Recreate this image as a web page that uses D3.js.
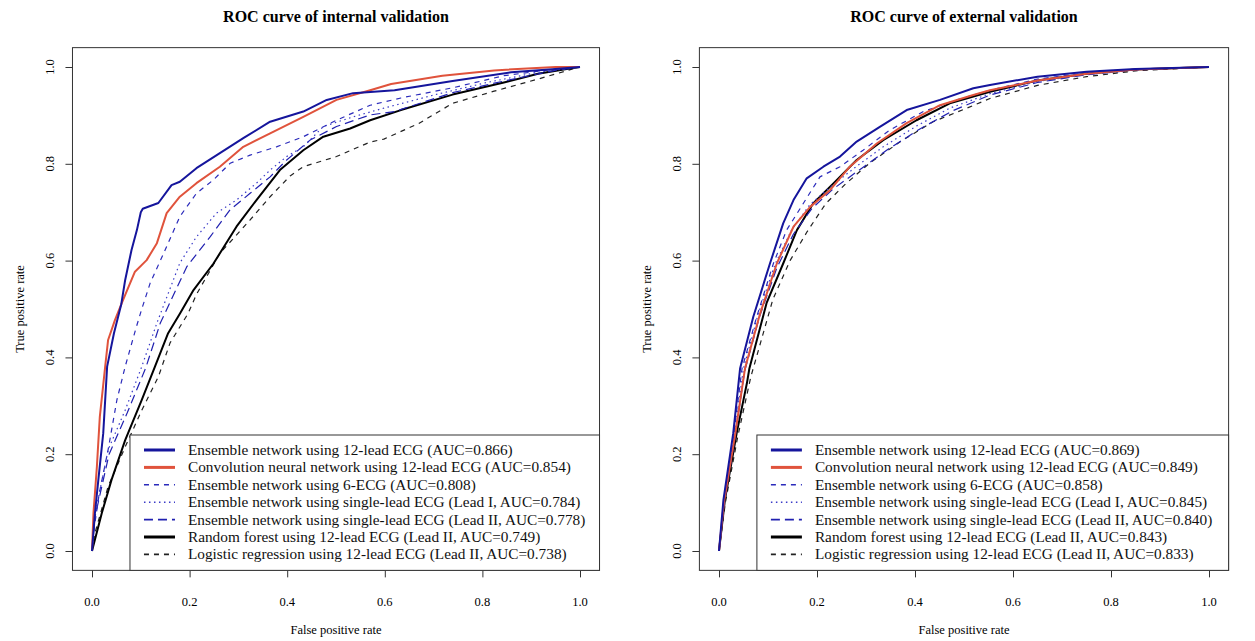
<!doctype html>
<html>
<head>
<meta charset="utf-8" />
<title>ROC curves</title>
<script src="https://cdnjs.cloudflare.com/ajax/libs/d3/7.8.5/d3.min.js"></script>
<style>
  body { margin:0; background:#fff; }
  svg { display:block; font-family:"Liberation Serif", "Times New Roman", serif; }
</style>
</head>
<body>
<div id="chart"></div>
<script>
/* axis ticks (both panels) */
var tick_values = [0, 0.2, 0.4, 0.6, 0.8, 1.0];

var panel_titles = ["ROC curve of internal validation", "ROC curve of external validation"];

/* legend text pieces, in legend order */
var model_names = [
  "Ensemble network using 12-lead ECG",
  "Convolution neural network using 12-lead ECG",
  "Ensemble network using 6-ECG",
  "Ensemble network using single-lead ECG",
  "Ensemble network using single-lead ECG",
  "Random forest using 12-lead ECG",
  "Logistic regression using 12-lead ECG"
];
var model_leads = ["", "", "", "Lead I, ", "Lead II, ", "Lead II, ", "Lead II, "];
var internal_auc = [0.866, 0.854, 0.808, 0.784, 0.778, 0.749, 0.738];
var external_auc = [0.869, 0.849, 0.858, 0.845, 0.840, 0.843, 0.833];

/* internal validation curves, [false positive rate, true positive rate] */
var int_ens12 = [[0,0],[0.006,0.078],[0.013,0.147],[0.023,0.243],[0.031,0.381],[0.045,0.45],[0.06,0.51],[0.068,0.56],[0.081,0.622],[0.092,0.663],[0.1,0.7],[0.104,0.707],[0.136,0.719],[0.163,0.756],[0.18,0.763],[0.214,0.791],[0.262,0.822],[0.31,0.853],[0.365,0.887],[0.433,0.908],[0.481,0.932],[0.535,0.946],[0.62,0.952],[0.739,0.971],[0.859,0.989],[0.95,0.996],[1,1]];
var int_cnn = [[0,0],[0.003,0.078],[0.01,0.174],[0.016,0.277],[0.027,0.381],[0.033,0.436],[0.047,0.477],[0.061,0.512],[0.068,0.529],[0.088,0.577],[0.112,0.601],[0.133,0.636],[0.153,0.698],[0.18,0.732],[0.214,0.76],[0.262,0.794],[0.31,0.835],[0.365,0.863],[0.433,0.897],[0.501,0.932],[0.57,0.952],[0.613,0.965],[0.718,0.982],[0.824,0.993],[0.95,1],[1,1]];
var int_ecg6 = [[0,0],[0.003,0.037],[0.015,0.12],[0.033,0.209],[0.051,0.312],[0.068,0.381],[0.09,0.46],[0.102,0.5],[0.119,0.553],[0.153,0.629],[0.18,0.691],[0.214,0.739],[0.249,0.767],[0.283,0.801],[0.324,0.818],[0.378,0.835],[0.433,0.856],[0.501,0.89],[0.57,0.921],[0.633,0.936],[0.739,0.957],[0.844,0.982],[0.95,0.996],[1,1]];
var int_lead1 = [[0,0],[0.006,0.074],[0.033,0.209],[0.068,0.291],[0.102,0.381],[0.133,0.471],[0.18,0.595],[0.214,0.649],[0.255,0.698],[0.296,0.725],[0.337,0.76],[0.365,0.787],[0.399,0.815],[0.433,0.835],[0.474,0.877],[0.535,0.897],[0.598,0.915],[0.704,0.943],[0.809,0.968],[0.914,0.989],[1,1]];
var int_lead2 = [[0,0],[0.006,0.07],[0.035,0.2],[0.072,0.285],[0.11,0.378],[0.14,0.471],[0.194,0.587],[0.242,0.649],[0.283,0.705],[0.324,0.739],[0.365,0.773],[0.399,0.808],[0.447,0.849],[0.501,0.877],[0.57,0.901],[0.62,0.908],[0.739,0.947],[0.844,0.971],[0.95,0.993],[1,1]];
var int_rf = [[0,0],[0.02,0.078],[0.04,0.147],[0.068,0.229],[0.102,0.312],[0.129,0.381],[0.156,0.45],[0.18,0.49],[0.208,0.539],[0.249,0.594],[0.296,0.67],[0.337,0.725],[0.385,0.787],[0.433,0.828],[0.474,0.856],[0.529,0.873],[0.57,0.89],[0.633,0.911],[0.739,0.943],[0.844,0.968],[0.914,0.986],[0.985,0.998],[1,1]];
var int_lr = [[0,0],[0.006,0.037],[0.033,0.133],[0.068,0.215],[0.102,0.291],[0.136,0.36],[0.16,0.43],[0.197,0.491],[0.214,0.53],[0.262,0.615],[0.324,0.684],[0.365,0.732],[0.406,0.775],[0.433,0.794],[0.501,0.815],[0.57,0.845],[0.598,0.851],[0.669,0.883],[0.739,0.925],[0.824,0.95],[0.914,0.975],[0.985,0.996],[1,1]];

/* external validation curves */
var ext_ens12 = [[0,0],[0.009,0.105],[0.029,0.243],[0.043,0.377],[0.07,0.484],[0.104,0.594],[0.131,0.677],[0.152,0.725],[0.179,0.77],[0.213,0.794],[0.247,0.815],[0.281,0.846],[0.329,0.877],[0.383,0.911],[0.451,0.932],[0.519,0.956],[0.553,0.963],[0.65,0.98],[0.75,0.99],[0.85,0.996],[1,1]];
var ext_cnn = [[0,0],[0.01,0.1],[0.032,0.235],[0.053,0.377],[0.084,0.491],[0.118,0.594],[0.152,0.67],[0.186,0.711],[0.227,0.746],[0.267,0.794],[0.322,0.842],[0.383,0.884],[0.451,0.921],[0.519,0.942],[0.553,0.952],[0.65,0.972],[0.75,0.986],[0.85,0.995],[1,1]];
var ext_ecg6 = [[0,0],[0.01,0.105],[0.03,0.24],[0.047,0.377],[0.077,0.484],[0.111,0.594],[0.138,0.663],[0.172,0.718],[0.206,0.773],[0.247,0.794],[0.294,0.828],[0.349,0.87],[0.417,0.908],[0.485,0.932],[0.553,0.952],[0.65,0.975],[0.75,0.988],[0.85,0.995],[1,1]];
var ext_lead1 = [[0,0],[0.01,0.1],[0.031,0.24],[0.05,0.377],[0.08,0.49],[0.115,0.594],[0.148,0.663],[0.185,0.715],[0.227,0.752],[0.281,0.795],[0.335,0.835],[0.403,0.878],[0.471,0.915],[0.553,0.945],[0.65,0.97],[0.75,0.985],[0.85,0.994],[1,1]];
var ext_lead2 = [[0,0],[0.011,0.1],[0.033,0.235],[0.052,0.37],[0.083,0.485],[0.118,0.585],[0.152,0.655],[0.19,0.708],[0.233,0.748],[0.29,0.79],[0.345,0.83],[0.41,0.872],[0.478,0.91],[0.553,0.942],[0.65,0.968],[0.75,0.984],[0.85,0.994],[1,1]];
var ext_rf = [[0,0],[0.012,0.105],[0.036,0.243],[0.057,0.347],[0.062,0.377],[0.097,0.512],[0.131,0.594],[0.159,0.663],[0.192,0.718],[0.233,0.759],[0.281,0.808],[0.335,0.849],[0.403,0.89],[0.471,0.925],[0.553,0.949],[0.65,0.972],[0.75,0.986],[0.85,0.995],[1,1]];
var ext_lr = [[0,0],[0.013,0.1],[0.038,0.235],[0.065,0.36],[0.11,0.52],[0.145,0.6],[0.18,0.66],[0.218,0.718],[0.258,0.758],[0.308,0.802],[0.369,0.845],[0.437,0.887],[0.506,0.915],[0.553,0.935],[0.65,0.962],[0.75,0.98],[0.85,0.992],[1,1]];

/* line styles for the 7 models (legend order) */
var styles = [
  {color:"#15159c", width:2,   legend_width:3,   dash:null},
  {color:"#e0533c", width:2,   legend_width:3,   dash:null},
  {color:"#2b2bbb", width:1.2, legend_width:1.6, dash:"5,5"},
  {color:"#3a3ac8", width:1.2, legend_width:1.6, dash:"1.5,3.5"},
  {color:"#2020b0", width:1.2, legend_width:1.6, dash:"9,5"},
  {color:"#000000", width:2,   legend_width:3,   dash:null},
  {color:"#222222", width:1.2, legend_width:1.6, dash:"5,5"}
];

var W = 1255, H = 641;

function main() {
  var svg = d3.select("#chart").append("svg")
    .attr("width", W).attr("height", H);

  var panels = [
    {x0:92,  x1:580,  title:panel_titles[0], auc:internal_auc,
     curves:[int_ens12, int_cnn, int_ecg6, int_lead1, int_lead2, int_rf, int_lr]},
    {x0:719, x1:1209, title:panel_titles[1], auc:external_auc,
     curves:[ext_ens12, ext_cnn, ext_ecg6, ext_lead1, ext_lead2, ext_rf, ext_lr]}
  ];

  panels.forEach(function(p) { draw_panel(svg, p); });
}

function draw_panel(svg, p) {
  var x = d3.scaleLinear().domain([0, 1]).range([p.x0, p.x1]);
  var y = d3.scaleLinear().domain([0, 1]).range([551, 67]);

  /* R style plot box: data range plus 4% */
  var bx0 = x(-0.04), bx1 = x(1.04), by0 = y(1.04), by1 = y(-0.04);
  var g = svg.append("g");

  g.append("rect")
    .attr("x", bx0).attr("y", by0)
    .attr("width", bx1 - bx0).attr("height", by1 - by0)
    .attr("fill", "none").attr("stroke", "#333").attr("stroke-width", 1);

  /* axes */
  var xa = g.append("g").attr("transform", "translate(0," + by1 + ")")
    .call(d3.axisBottom(x).tickValues(tick_values).tickSize(7).tickFormat(""));
  var ya = g.append("g").attr("transform", "translate(" + bx0 + ",0)")
    .call(d3.axisLeft(y).tickValues(tick_values).tickSize(7).tickFormat(""));
  [xa, ya].forEach(function(a) {
    a.select(".domain").remove();
    a.selectAll("line").attr("stroke", "#333");
  });

  g.selectAll("text.xtick").data(tick_values).enter().append("text")
    .attr("class", "xtick")
    .attr("x", function(d) { return x(d); })
    .attr("y", by1 + 36)
    .attr("text-anchor", "middle")
    .attr("font-size", 12.5)
    .text(d3.format(".1f"));

  g.selectAll("text.ytick").data(tick_values).enter().append("text")
    .attr("class", "ytick")
    .attr("transform", function(d) { return "translate(" + (bx0 - 18) + "," + y(d) + ") rotate(-90)"; })
    .attr("text-anchor", "middle")
    .attr("font-size", 12.5)
    .text(d3.format(".1f"));

  /* titles */
  g.append("text")
    .attr("x", (bx0 + bx1) / 2).attr("y", 22)
    .attr("text-anchor", "middle")
    .attr("font-weight", "bold").attr("font-size", 16)
    .text(p.title);

  g.append("text")
    .attr("x", (bx0 + bx1) / 2).attr("y", 634)
    .attr("text-anchor", "middle").attr("font-size", 12.5)
    .text("False positive rate");

  g.append("text")
    .attr("transform", "translate(" + (bx0 - 48) + "," + ((by0 + by1) / 2) + ") rotate(-90)")
    .attr("text-anchor", "middle").attr("font-size", 12.5)
    .text("True positive rate");

  /* curves, drawn bottom model first so the solid ones end on top */
  var line = d3.line()
    .x(function(d) { return x(d[0]); })
    .y(function(d) { return y(d[1]); });

  var order = [6, 5, 4, 3, 2, 1, 0];
  order.forEach(function(i) {
    var s = styles[i];
    g.append("path")
      .datum(p.curves[i])
      .attr("d", line)
      .attr("fill", "none")
      .attr("stroke", s.color)
      .attr("stroke-width", s.width)
      .attr("stroke-dasharray", s.dash)
      .attr("stroke-linejoin", "round");
  });

  /* legend at bottom right corner of the box */
  var lx = bx0 + 57.5, ly = 435;
  g.append("rect")
    .attr("x", lx).attr("y", ly)
    .attr("width", bx1 - lx).attr("height", by1 - ly)
    .attr("fill", "#fff").attr("stroke", "#333").attr("stroke-width", 1);

  var rows = g.selectAll("g.leg").data(model_names).enter().append("g")
    .attr("class", "leg")
    .attr("transform", function(d, i) { return "translate(" + lx + "," + (ly + 15 + i * 17.4) + ")"; });

  rows.append("line")
    .attr("x1", 14).attr("x2", 45).attr("y1", 0).attr("y2", 0)
    .attr("stroke", function(d, i) { return styles[i].color; })
    .attr("stroke-width", function(d, i) { return styles[i].legend_width; })
    .attr("stroke-dasharray", function(d, i) { return styles[i].dash; });

  rows.append("text")
    .attr("x", 58).attr("y", 5)
    .attr("font-size", 15.3)
    .attr("fill", "#111")
    .text(function(d, i) {
      return d + " (" + model_leads[i] + "AUC=" + p.auc[i].toFixed(3) + ")";
    });
}

document.addEventListener("DOMContentLoaded", main);
</script>
</body>
</html>
